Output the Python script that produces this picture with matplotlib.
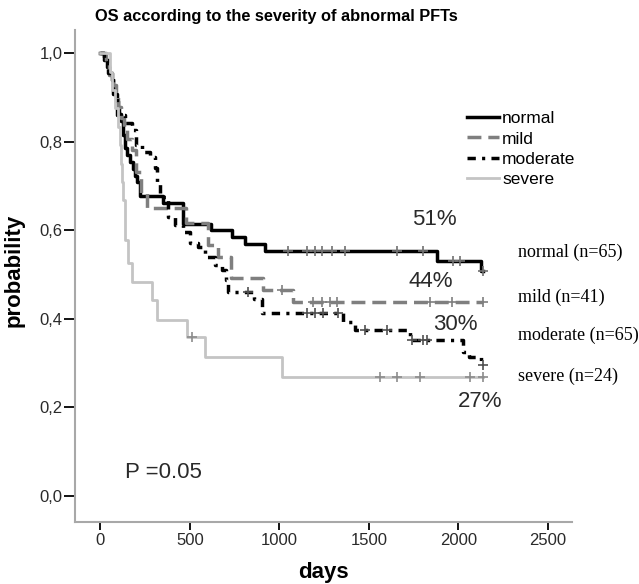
import numpy as np
import matplotlib
matplotlib.use("Agg")
from matplotlib import pyplot as plt

# Kaplan-Meier step curves (days, survival probability)
normal_t = [0, 20, 36, 50, 64, 72, 81, 90, 98, 106, 115, 125, 137, 150, 165, 180, 193, 204, 221, 350, 460, 620, 735, 808, 920, 1880, 2125, 2135]
normal_s = [1.0, 0.985, 0.969, 0.954, 0.938, 0.923, 0.908, 0.892, 0.877, 0.862, 0.846, 0.815, 0.785, 0.769, 0.754, 0.738, 0.723, 0.708, 0.677, 0.662, 0.615, 0.6, 0.585, 0.569, 0.554, 0.531, 0.508, 0.508]
normal_cens = [1047, 1153, 1199, 1237, 1293, 1366, 1657, 1802, 1970, 2008, 2135]

mild_t = [0, 30, 50, 70, 85, 100, 115, 130, 150, 175, 200, 225, 260, 480, 600, 656, 730, 910, 1075, 2135]
mild_s = [1.0, 0.976, 0.951, 0.927, 0.902, 0.878, 0.854, 0.829, 0.805, 0.78, 0.732, 0.683, 0.65, 0.616, 0.567, 0.54, 0.492, 0.465, 0.438, 0.438]
mild_cens = [1014, 1187, 1237, 1282, 1321, 1840, 1963, 2135]

moderate_t = [0, 20, 45, 70, 92, 137, 176, 200, 232, 277, 304, 316, 332, 377, 416, 461, 500, 545, 584, 640, 679, 700, 712, 860, 900, 1355, 1422, 1729, 2025, 2060, 2125, 2135]
moderate_s = [1.0, 0.985, 0.954, 0.908, 0.86, 0.842, 0.826, 0.792, 0.776, 0.765, 0.74, 0.707, 0.675, 0.63, 0.612, 0.596, 0.571, 0.562, 0.54, 0.521, 0.51, 0.488, 0.46, 0.444, 0.413, 0.393, 0.375, 0.352, 0.325, 0.314, 0.296, 0.296]
moderate_cens = [824, 1153, 1199, 1243, 1327, 1478, 1600, 1740, 1802, 1824, 2135]

severe_t = [0, 55, 64, 81, 100, 109, 115, 120, 126, 137, 154, 176, 288, 316, 483, 584, 1014, 2135]
severe_s = [1.0, 0.958, 0.917, 0.875, 0.833, 0.792, 0.75, 0.708, 0.667, 0.578, 0.526, 0.483, 0.442, 0.397, 0.359, 0.314, 0.269, 0.269]
severe_cens = [511, 1561, 1657, 1785, 2064, 2135]

groups = ["normal", "mild", "moderate", "severe"]
group_n = [65, 41, 65, 24]
final_pct = ["51%", "44%", "30%", "27%"]
yticks = [0.0, 0.2, 0.4, 0.6, 0.8, 1.0]
xticks = [0, 500, 1000, 1500, 2000, 2500]

fig = plt.figure(figsize=(6.39, 5.84), dpi=100)
ax = fig.add_axes([75 / 639, 62 / 584, 497 / 639, 492 / 584])

curves = [
    (normal_t, normal_s, normal_cens, "black", "#707070", "-", 2.5),
    (mild_t, mild_s, mild_cens, "#7f7f7f", "#7f7f7f", (0, (4, 2)), 2.5),
    (moderate_t, moderate_s, moderate_cens, "black", "#505050", (0, (2.4, 1.8, 0.9, 1.8)), 2.5),
    (severe_t, severe_s, severe_cens, "#c4c4c4", "#8c8c8c", "-", 2.0),
]

for name, (t, s, cens, col, mcol, ls, lw) in zip(groups, curves):
    ax.step(t, s, where="post", color=col, linestyle=ls, linewidth=lw, label=name)
    # censor marks sit on the step value at that time
    idx = np.searchsorted(t, cens, side="right") - 1
    ax.plot(cens, np.array(s)[idx], linestyle="none", marker="+", color=mcol,
            markersize=7, markeredgewidth=1.2)

ax.set_xlim(-142, 2634)
ax.set_ylim(-0.059, 1.052)
ax.set_xticks(xticks)
ax.set_yticks(yticks)
ax.set_yticklabels([f"{v:.1f}".replace(".", ",") for v in yticks])
for sp in ["top", "right"]:
    ax.spines[sp].set_visible(False)
for sp in ["left", "bottom"]:
    ax.spines[sp].set_color("#a8a8a8")
    ax.spines[sp].set_linewidth(1.5)
ax.tick_params(direction="out", width=1.3, color="black",
               labelsize=12, labelfontfamily="Liberation Sans", labelcolor="#2a2a2a")
ax.tick_params(axis="y", length=8, pad=1)
ax.tick_params(axis="x", length=6, pad=2)

fig.text(95 / 639, 1 - 17 / 584, "OS according to the severity of abnormal PFTs",
         fontsize=11.8, fontweight="bold", family="Liberation Sans", va="center", ha="left")
fig.text(14 / 639, 1 - 270 / 584, "probability", rotation=90, fontsize=16, fontweight="bold",
         family="Liberation Sans", va="center", ha="center")
fig.text(323 / 639, 1 - 583 / 584, "days", fontsize=16, fontweight="bold",
         family="Liberation Sans", va="bottom", ha="center")

leg = ax.legend(loc="upper left", bbox_to_anchor=(467 / 639, 1 - 111 / 584),
                bbox_transform=fig.transFigure, frameon=False, borderpad=0, borderaxespad=0,
                handlelength=1.85, handletextpad=0.17, labelspacing=0.3,
                prop={"family": "Liberation Sans", "size": 12.5})

# group labels at the right, percentages next to curve ends
label_y = [0.550, 0.448, 0.362, 0.270]
for name, n, yy in zip(groups, group_n, label_y):
    ax.text(2332, yy, f"{name} (n={n})", family="Liberation Serif", fontsize=13,
            va="center", ha="left")

pct_xy = [(1740, 0.623), (1718, 0.483), (1857, 0.386), (1997, 0.214)]
for txt, (px, py) in zip(final_pct, pct_xy):
    ax.text(px, py, txt, family="Liberation Sans", fontsize=16, va="center", ha="left",
            color="#2a2a2a")

ax.text(135, 0.052, "P =0.05", family="Liberation Sans", fontsize=16, va="center", ha="left",
        color="#2a2a2a")

fig.savefig("out.png", dpi=100)
